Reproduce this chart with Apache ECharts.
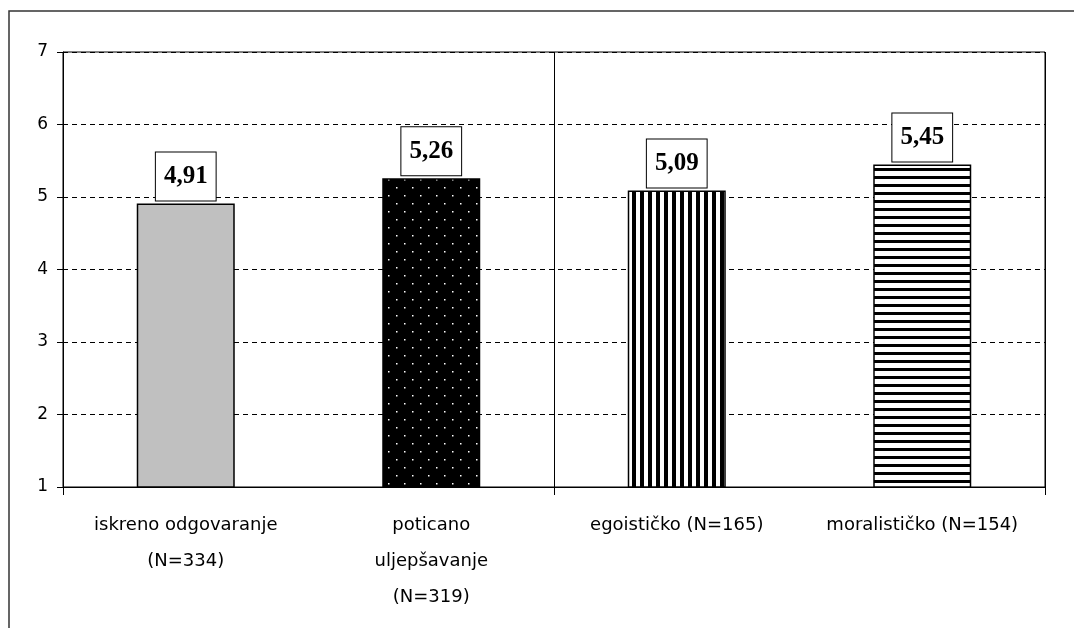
<!DOCTYPE html>
<html>
<head>
<meta charset="utf-8">
<script src="https://cdn.jsdelivr.net/npm/echarts@6/dist/echarts.min.js"></script>
<style>
html,body{margin:0;padding:0;background:#fff;}
#chart{width:1074px;height:628px;}
</style>
</head>
<body>
<div id="chart"></div>
<script>
const categories = ['iskreno odgovaranje\n(N=334)', 'poticano\nuljepšavanje\n(N=319)', 'egoističko (N=165)', 'moralističko (N=154)'];
const values = [4.91, 5.26, 5.09, 5.45];
const groups = ['g1', 'g2'];
const yMin = 1, yMax = 7, yStep = 1;

function makeCanvas(w, h, draw) {
  const c = document.createElement('canvas');
  c.width = w; c.height = h;
  draw(c.getContext('2d'));
  return c;
}
const dots = makeCanvas(16, 16, g => {
  g.fillStyle = '#000'; g.fillRect(0, 0, 16, 16);
  g.fillStyle = '#fff';
  g.fillRect(4, 3, 1.5, 1.5);
  g.fillRect(12, 11, 1.5, 1.5);
});
const vstripes = makeCanvas(8, 8, g => {
  g.fillStyle = '#fff'; g.fillRect(0, 0, 8, 8);
  g.fillStyle = '#000'; g.fillRect(0, 0, 4, 8);
});
const hstripes = makeCanvas(8, 8, g => {
  g.fillStyle = '#fff'; g.fillRect(0, 0, 8, 8);
  g.fillStyle = '#000'; g.fillRect(0, 0, 8, 3);
});
const fills = ['#c0c0c0', {image: dots, repeat: 'repeat'}, {image: vstripes, repeat: 'repeat'}, {image: hstripes, repeat: 'repeat'}];

const chart = echarts.init(document.getElementById('chart'), null, {renderer: 'canvas'});
chart.setOption({
  animation: false,
  backgroundColor: '#fff',
  grid: {left: 63, top: 52, right: 29, bottom: 141, show: true, borderColor: '#000', borderWidth: 1},
  graphic: [
    {type: 'polyline', shape: {points: [[9, 628], [9, 11], [1074, 11]]}, style: {stroke: '#333', lineWidth: 1.5, fill: null}}
  ],
  xAxis: [
    {
      type: 'category', data: categories,
      axisLine: {show: true, lineStyle: {color: '#000', width: 1}},
      axisTick: {show: false},
      axisLabel: {interval: 0, color: '#000', fontFamily: 'DejaVu Sans', fontSize: 18, lineHeight: 36, margin: 20}
    },
    {
      type: 'category', data: groups, position: 'bottom',
      axisLine: {show: false},
      axisLabel: {show: false},
      axisTick: {show: true, length: 8, lineStyle: {color: '#000', width: 1}},
      splitLine: {show: true, lineStyle: {color: '#000', width: 1}}
    }
  ],
  yAxis: {
    type: 'value', min: yMin, max: yMax, interval: yStep,
    axisLine: {show: true, lineStyle: {color: '#000', width: 1}},
    axisTick: {show: true, length: 6, lineStyle: {color: '#000'}},
    axisLabel: {color: '#000', fontFamily: 'DejaVu Sans', fontSize: 17, margin: 15},
    splitLine: {show: true, lineStyle: {color: '#000', type: [5, 4], width: 1}}
  },
  series: [{
    type: 'bar', xAxisIndex: 0,
    barWidth: 98,
    data: values.map((v, i) => ({value: v, itemStyle: {color: fills[i]}})),
    itemStyle: {borderColor: '#000', borderWidth: 1.5},
    label: {
      show: true, position: 'top', distance: 3,
      formatter: p => p.value.toFixed(2).replace('.', ','),
      fontFamily: 'Liberation Serif', fontWeight: 'bold', fontSize: 25, color: '#000',
      backgroundColor: '#fff', borderColor: '#000', borderWidth: 1,
      padding: [12, 8, 11, 8]
    }
  }]
});
</script>
</body>
</html>
